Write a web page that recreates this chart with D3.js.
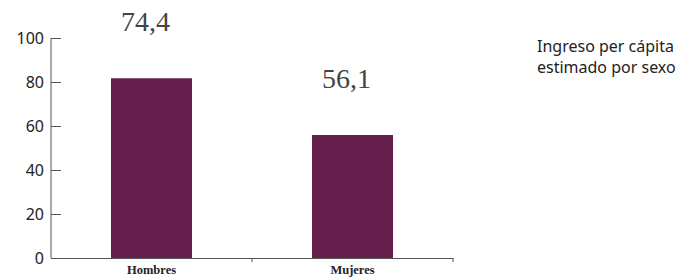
<!DOCTYPE html>
<html>
<head>
<meta charset="utf-8">
<script src="https://cdn.jsdelivr.net/npm/d3@7"></script>
<style>
  body { margin: 0; background: #fff; }
</style>
</head>
<body>
<svg id="chart" width="683" height="278"></svg>
<script>
// datos del gráfico
const categories = ["Hombres", "Mujeres"];
const barValues = [81.7, 55.9];
const valueLabels = ["74,4", "56,1"];
const yTicks = [0, 20, 40, 60, 80, 100];
const titleLines = ["Ingreso per cápita", "estimado por sexo"];

const svg = d3.select("#chart");
const margin = { top: 38, left: 51, bottom: 20 },
      plotW = 402,
      plotH = 258 - margin.top;

const g = svg.append("g").attr("transform", `translate(${margin.left},${margin.top})`);

const x = d3.scaleBand().domain(categories).range([0, plotW]).paddingInner(0).paddingOuter(0);
const y = d3.scaleLinear().domain([0, 100]).range([plotH, 0]);
const barW = 81;

// barras
g.selectAll("rect.bar")
  .data(categories)
  .join("rect")
  .attr("class", "bar")
  .attr("x", d => x(d) + x.bandwidth() / 2 - barW / 2)
  .attr("y", (d, i) => y(barValues[i]))
  .attr("width", barW)
  .attr("height", (d, i) => plotH - y(barValues[i]))
  .attr("fill", "#641e4b");

// etiquetas de valor
g.selectAll("text.val")
  .data(categories)
  .join("text")
  .attr("class", "val")
  .attr("x", d => x(d) + x.bandwidth() / 2 - 6)
  .attr("y", (d, i) => y(barValues[i]) - 47)
  .attr("text-anchor", "middle")
  .attr("fill", "#444")
  .style("font-family", "'Liberation Serif', serif")
  .style("font-size", "28px")
  .text((d, i) => valueLabels[i]);

// eje y
const yAxis = g.append("g")
  .call(d3.axisRight(y).tickValues(yTicks).tickSize(10).tickFormat(d3.format("d")));
yAxis.select(".domain").attr("d", `M0,0V${plotH}`).attr("stroke", "#555");
yAxis.selectAll(".tick line").attr("stroke", "#555");
yAxis.selectAll(".tick text")
  .attr("x", -7)
  .attr("text-anchor", "end")
  .attr("fill", "#222")
  .style("font-family", "'Noto Sans', sans-serif")
  .style("font-size", "16px");

// eje x
const xAxis = g.append("g")
  .attr("transform", `translate(0,${plotH})`)
  .call(d3.axisBottom(x).tickSize(0).tickSizeOuter(0));
xAxis.select(".domain").attr("stroke", "#555");
xAxis.selectAll(".tick text")
  .attr("y", 7)
  .attr("fill", "#222")
  .style("font-family", "'Liberation Serif', serif")
  .style("font-weight", "bold")
  .style("font-size", "12.5px");

// separadores entre categorías
xAxis.selectAll("line.sep")
  .data(categories)
  .join("line")
  .attr("class", "sep")
  .attr("x1", d => x(d) + x.bandwidth())
  .attr("x2", d => x(d) + x.bandwidth())
  .attr("y1", 0)
  .attr("y2", 4)
  .attr("stroke", "#555");

// título
svg.append("text")
  .attr("x", 537)
  .attr("y", 52)
  .attr("fill", "#222")
  .style("font-family", "'Noto Sans', sans-serif")
  .style("font-size", "16px")
  .selectAll("tspan")
  .data(titleLines)
  .join("tspan")
  .attr("x", 537)
  .attr("dy", (d, i) => i === 0 ? 0 : 21)
  .text(d => d);
</script>
</body>
</html>
